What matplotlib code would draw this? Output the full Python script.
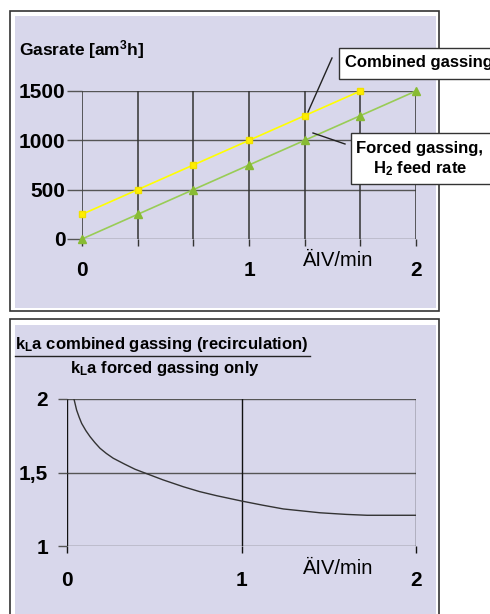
import matplotlib
matplotlib.use("Agg")
import matplotlib.pyplot as plt
from matplotlib.patches import Rectangle
from matplotlib.lines import Line2D
import numpy as np

plt.rcParams['font.family'] = ['Liberation Sans', 'DejaVu Sans']
plt.rcParams['mathtext.fontset'] = 'custom'
plt.rcParams['mathtext.rm'] = 'Liberation Sans:bold'
plt.rcParams['mathtext.it'] = 'Liberation Sans:bold'
plt.rcParams['mathtext.bf'] = 'Liberation Sans:bold'

# ---- data ----
x_steps = [0, 1/3, 2/3, 1, 4/3, 5/3, 2]
combined = [250, 500, 750, 1000, 1250, 1500]
forced = [0, 250, 500, 750, 1000, 1250, 1500]
top_yticks = [0, 500, 1000, 1500]
x_ticklabels = ['0', '', '', '1', '', '', '2']

ratio_x = [0.040, 0.055, 0.070, 0.084, 0.108, 0.132, 0.160, 0.189, 0.225, 0.265,
           0.33, 0.39, 0.45, 0.55, 0.667, 0.76, 0.858, 1.0, 1.12, 1.24, 1.45,
           1.6, 1.72, 2.0]
ratio_y = [2.0, 1.925, 1.875, 1.834, 1.785, 1.744, 1.703, 1.665, 1.630, 1.597,
           1.557, 1.522, 1.495, 1.45, 1.403, 1.37, 1.342, 1.306, 1.278, 1.252,
           1.226, 1.215, 1.209, 1.209]
bottom_yticks = [1, 1.5, 2]
bottom_yticklabels = ['1', '1,5', '2']

W, H = 490, 614
fig = plt.figure(figsize=(4.9, 6.14), dpi=100)
fig.patch.set_facecolor('white')

LAV = '#D8D7EB'

def px_rect(x0, y0, x1, y1, zorder=-5, **kw):
    r = Rectangle((x0 / W, 1 - y1 / H), (x1 - x0) / W, (y1 - y0) / H,
                  transform=fig.transFigure, zorder=zorder, **kw)
    fig.patches.append(r)
    return r

# panel frames
px_rect(10, 11, 439, 311, facecolor='white', edgecolor='#333333', lw=1.2, zorder=-6)
px_rect(15, 16, 436, 308, facecolor=LAV, edgecolor='none', zorder=-5)
px_rect(10, 319, 439, 640, facecolor='white', edgecolor='#333333', lw=1.2, zorder=-6)
px_rect(15, 325, 436, 640, facecolor=LAV, edgecolor='none', zorder=-5)

# ---- top axes ----
ax1 = fig.add_axes([82 / W, 1 - 239 / H, (416 - 82) / W, (239 - 91) / H])
ax1.set_facecolor('none')
ax1.set_xlim(0, 2)
ax1.set_ylim(0, 1500)
ax1.set_xticks(x_steps)
ax1.set_xticklabels(x_ticklabels)
ax1.set_yticks(top_yticks)
ax1.set_yticklabels([str(v) for v in top_yticks])
for v in top_yticks:
    ax1.axhline(v, color='#555555', lw=1.0, zorder=1)
for v in x_steps:
    ax1.axvline(v, color='#333333', lw=1.1, zorder=1)
for s in ax1.spines.values():
    s.set_visible(False)
ax1.tick_params(axis='x', length=5, width=1.0, color='#333333', pad=11,
                labelsize=15)
ax1.tick_params(axis='y', length=11, width=1.0, color='#555555', pad=1,
                labelsize=15)
for lab in ax1.get_xticklabels() + ax1.get_yticklabels():
    lab.set_fontweight('bold')

ax1.plot(x_steps[:len(combined)], combined, color='#FFFF00', lw=1.2,
         marker='s', ms=5, mfc='#FFEE00', mec='#F0E000', clip_on=False, zorder=3)
ax1.plot(x_steps, forced, color='#99CC55', lw=1.2, marker='^', ms=6,
         mfc='#88BB33', mec='#88BB33', clip_on=False, zorder=3)

fig.text(19 / W, 1 - 50 / H, r'Gasrate [am$^\mathrm{3}$h]', fontsize=12.5,
         fontweight='bold', va='center', ha='left')
fig.text(338 / W, 1 - 261 / H, 'ÄIV/min', fontsize=14.5, va='center', ha='center')

# annotation boxes
px_rect(339, 48, 520, 79, zorder=5, facecolor='white', edgecolor='#333333', lw=1.0)
fig.text(345 / W, 1 - 63 / H, 'Combined gassing', fontsize=12, fontweight='bold',
         va='center', ha='left', zorder=6)
fig.lines.append(Line2D([332 / W, 308 / W], [1 - 58 / H, 1 - 112 / H],
                        transform=fig.transFigure, color='#222222', lw=1.0, zorder=6))
px_rect(351, 133, 520, 184, zorder=5, facecolor='white', edgecolor='#333333', lw=1.0)
fig.text(420 / W, 1 - 149 / H, 'Forced gassing,', fontsize=12, fontweight='bold',
         va='center', ha='center', zorder=6)
fig.text(420 / W, 1 - 169 / H, r'H$_\mathrm{2}$ feed rate', fontsize=12,
         fontweight='bold', va='center', ha='center', zorder=6)
fig.lines.append(Line2D([313 / W, 345 / W], [1 - 133 / H, 1 - 144 / H],
                        transform=fig.transFigure, color='#222222', lw=1.0, zorder=6))

# ---- bottom axes ----
ax2 = fig.add_axes([67 / W, 1 - 546 / H, (416 - 67) / W, (546 - 399) / H])
ax2.set_facecolor('none')
ax2.set_xlim(0, 2)
ax2.set_ylim(1, 2)
ax2.set_xticks([0, 1, 2])
ax2.set_xticklabels(['0', '1', '2'])
ax2.set_yticks(bottom_yticks)
ax2.set_yticklabels(bottom_yticklabels)
for v in bottom_yticks:
    ax2.axhline(v, color='#555555', lw=1.0, zorder=1)
for v in [0, 1, 2]:
    ax2.axvline(v, color='#111111', lw=1.0, zorder=1)
for s in ax2.spines.values():
    s.set_visible(False)
ax2.tick_params(axis='x', length=5, width=1.0, color='#111111', pad=13,
                labelsize=15)
ax2.tick_params(axis='y', length=6.5, width=1.0, color='#555555', pad=7,
                labelsize=15)
for lab in ax2.get_xticklabels() + ax2.get_yticklabels():
    lab.set_fontweight('bold')

ax2.plot(ratio_x, ratio_y, color='#333333', lw=1.0, zorder=3)

fig.text(338 / W, 1 - 568 / H, 'ÄIV/min', fontsize=14.5, va='center', ha='center')

fig.text(15 / W, 1 - 344 / H, r'k$_\mathrm{L}$a combined gassing (recirculation)',
         fontsize=12, fontweight='bold', va='center', ha='left')
fig.lines.append(Line2D([15 / W, 310 / W], [1 - 356 / H, 1 - 356 / H],
                        transform=fig.transFigure, color='#222222', lw=1.0))
fig.text(70 / W, 1 - 368 / H, r'k$_\mathrm{L}$a forced gassing only',
         fontsize=12, fontweight='bold', va='center', ha='left')

fig.savefig('out.png', dpi=100, facecolor='white')
